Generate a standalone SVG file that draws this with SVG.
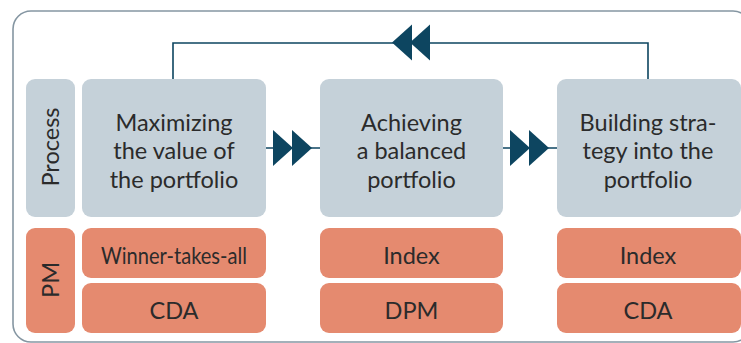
<svg xmlns="http://www.w3.org/2000/svg" width="741" height="343" viewBox="0 0 741 343">
<style>
.frame{fill:none;stroke:#8596a2;stroke-width:1.6}
.grey{fill:#c5d1d9}
.orange{fill:#e58a6f}
.t{font-family:Lato,"Open Sans","DejaVu Sans",sans-serif;font-size:23.5px;fill:#2b2b2b;text-anchor:middle}
.line{fill:none;stroke:#0d4560;stroke-width:1.6}
.tri{fill:#0d4560}
</style>
<rect width="741" height="343" fill="#ffffff"/>
<rect class="frame" x="13" y="11" width="738" height="331" rx="18"/>
<g id="connectors">
<polyline class="line" points="173,79 173,43 648,43 648,79"/>
<polygon class="tri" points="392,42.5 412,24.5 412,60.5"/>
<polygon class="tri" points="410,42.5 430,24.5 430,60.5"/>
<line class="line" x1="266" y1="148" x2="320" y2="148"/>
<polygon class="tri" points="273,130 273,166 293,148"/>
<polygon class="tri" points="292,130 292,166 312,148"/>
<line class="line" x1="503" y1="148" x2="557" y2="148"/>
<polygon class="tri" points="510,130 510,166 530,148"/>
<polygon class="tri" points="529,130 529,166 549,148"/>
</g>
<g id="label-process">
<rect class="grey" x="26" y="79" width="49" height="138" rx="9"/>
<text class="t" transform="translate(58.5,147) rotate(-90)">Process</text>
</g>
<g id="label-pm">
<rect class="orange" x="26" y="228" width="49" height="105" rx="9"/>
<text class="t" transform="translate(58.5,280) rotate(-90)">PM</text>
</g>
<g id="process-1">
<rect class="grey" x="82" y="79" width="184" height="138" rx="9"/>
<text class="t" x="174" y="130.5">Maximizing</text>
<text class="t" x="174" y="159">the value of</text>
<text class="t" x="174" y="187.5">the portfolio</text>
</g>
<g id="process-2">
<rect class="grey" x="320" y="79" width="183" height="138" rx="9"/>
<text class="t" x="411.5" y="130.5">Achieving</text>
<text class="t" x="411.5" y="159">a balanced</text>
<text class="t" x="411.5" y="187.5">portfolio</text>
</g>
<g id="process-3">
<rect class="grey" x="557" y="79" width="184" height="138" rx="9"/>
<text class="t" x="648" y="130.5">Building stra-</text>
<text class="t" x="648" y="159">tegy into the</text>
<text class="t" x="648" y="187.5">portfolio</text>
</g>
<g id="pm-1a">
<rect class="orange" x="82" y="228" width="184" height="50" rx="9"/>
<text class="t" x="174" y="264" textLength="146" lengthAdjust="spacingAndGlyphs">Winner-takes-all</text>
</g>
<g id="pm-1b">
<rect class="orange" x="82" y="283" width="184" height="50" rx="9"/>
<text class="t" x="174" y="319">CDA</text>
</g>
<g id="pm-2a">
<rect class="orange" x="320" y="228" width="183" height="50" rx="9"/>
<text class="t" x="411.5" y="264">Index</text>
</g>
<g id="pm-2b">
<rect class="orange" x="320" y="283" width="183" height="50" rx="9"/>
<text class="t" x="411.5" y="319">DPM</text>
</g>
<g id="pm-3a">
<rect class="orange" x="557" y="228" width="184" height="50" rx="9"/>
<text class="t" x="648" y="264">Index</text>
</g>
<g id="pm-3b">
<rect class="orange" x="557" y="283" width="184" height="50" rx="9"/>
<text class="t" x="648" y="319">CDA</text>
</g>
</svg>
